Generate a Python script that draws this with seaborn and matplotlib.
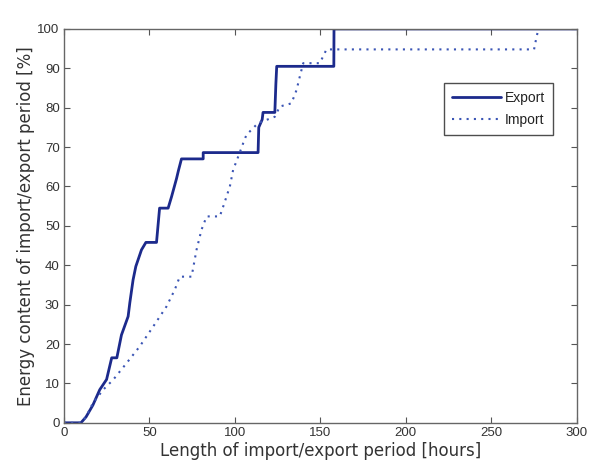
import matplotlib
matplotlib.use("Agg")
import matplotlib.pyplot as plt
import seaborn as sns
import pandas as pd

export_x = [0, 10, 13, 17, 21, 25, 28, 31, 33.7, 37.6, 38.6, 40.5, 42.1, 45.4, 48, 54.2,
            56, 61, 63, 65.9, 67, 68.8, 81.5, 81.5, 113.6, 114, 116, 116.5, 123.4, 124,
            124.5, 157.9, 158, 300]
export_y = [0, 0, 1.5, 4.5, 8.4, 11, 16.5, 16.5, 22.3, 27, 30.5, 36.3, 39.7, 43.9, 45.8, 45.8,
            54.5, 54.5, 57.4, 62, 64, 67, 67, 68.6, 68.6, 75, 77, 78.8, 78.8, 86,
            90.5, 90.5, 100, 100]

import_x = [0, 10, 13, 17, 23, 28.8, 36.6, 44.4, 52.2, 60, 64.9, 67.8, 74.7, 77.6, 80.5,
            83.5, 91.2, 93.2, 97.1, 99, 102, 104.9, 106.8, 113.6, 118.5, 123.4, 126.3,
            133.1, 136.1, 138, 140, 149.7, 153.6, 275, 276, 277]
import_y = [0, 0, 1.5, 5, 8.4, 10.9, 15.1, 19.4, 24.4, 29.5, 33.8, 37.1, 37.1, 43.9, 49,
            52.4, 52.4, 54.9, 60, 64.2, 67.6, 71, 73.1, 76.1, 76.9, 77.7, 80.3,
            81.1, 84.5, 87.9, 91.3, 91.3, 94.8, 94.8, 97, 99]

x_ticks = [0, 50, 100, 150, 200, 250, 300]
y_ticks = [0, 10, 20, 30, 40, 50, 60, 70, 80, 90, 100]

sns.set_style("white")
plt.rcParams["font.family"] = ["DejaVu Sans"]

fig = plt.figure(figsize=(5.91, 4.74), dpi=100)
ax = fig.add_axes([0.108, 0.108, 0.868, 0.831])

df_e = pd.DataFrame({"x": export_x, "y": export_y})
df_i = pd.DataFrame({"x": import_x, "y": import_y})

sns.lineplot(data=df_e, x="x", y="y", sort=False, estimator=None, ax=ax,
             color="#1c2a8c", linewidth=2.0, label="Export")
sns.lineplot(data=df_i, x="x", y="y", sort=False, estimator=None, ax=ax,
             color="#3b55b5", linewidth=1.5, linestyle=(0, (1, 2.5)), label="Import")

ax.set_xlim(0, 300)
ax.set_ylim(0, 100)
ax.set_xticks(x_ticks)
ax.set_yticks(y_ticks)
ax.set_xticklabels([str(v) for v in x_ticks], fontfamily="Liberation Sans", fontsize=9.5, color="#333333")
ax.set_yticklabels([str(v) for v in y_ticks], fontfamily="Liberation Sans", fontsize=9.5, color="#333333")
ax.tick_params(direction="in", length=4, width=0.8, color="#555555", top=True, right=True,
               bottom=True, left=True, pad=3)
for s in ax.spines.values():
    s.set_color("#666666")
    s.set_linewidth(1.0)

ax.set_xlabel("Length of import/export period [hours]", fontsize=12, color="#333333", labelpad=2)
ax.set_ylabel("Energy content of import/export period [%]", fontsize=12, color="#333333", labelpad=2)

leg = ax.legend(loc="upper right", bbox_to_anchor=(0.953, 0.862), frameon=True, fancybox=False,
                prop={"family": "Liberation Sans", "size": 10}, handlelength=3.5,
                borderpad=0.55, labelspacing=0.6, handletextpad=0.3, borderaxespad=0)
leg.get_frame().set_edgecolor("#222222")
leg.get_frame().set_linewidth(1.0)
for t in leg.get_texts():
    t.set_color("#222222")

fig.savefig("out.png", dpi=100)
